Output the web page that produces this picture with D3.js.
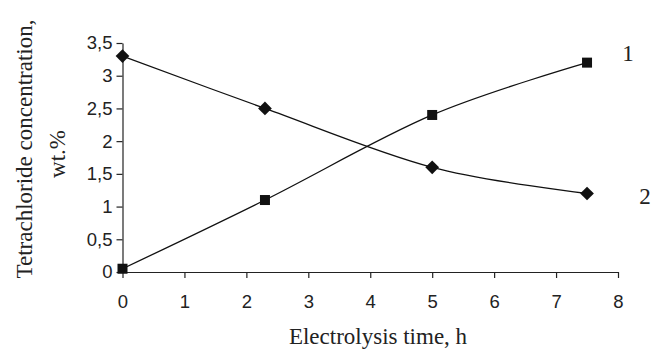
<!doctype html>
<html lang="en">
<head>
    <meta charset="utf-8">
    <title>Tetrachloride concentration</title>
    <script src="https://cdn.jsdelivr.net/npm/d3@7"></script>
    <style>
        body { margin: 0; background: #fff; }
        svg { display: block; }
    </style>
</head>
<body>
    <svg></svg>
    <script>
        var width = 653;
        var height = 350;

        // data
        var timeH = [0, 2.3, 5, 7.5];
        var series1 = [0.05, 1.1, 2.4, 3.2];   // squares, label "1"
        var series2 = [3.3, 2.5, 1.6, 1.2];    // diamonds, label "2"
        var xTicks = [0, 1, 2, 3, 4, 5, 6, 7, 8];
        var yTicks = [0, 0.5, 1, 1.5, 2, 2.5, 3, 3.5];

        var xScale = d3.scaleLinear().domain([0, 8]).range([122.5, 618]);
        var yScale = d3.scaleLinear().domain([0, 3.5]).range([272, 43]);

        var svg = d3.select('svg').attr('width', width).attr('height', height);

        var fmt = function (d) { return String(d).replace('.', ','); };

        var xAxis = d3.axisBottom(xScale).tickValues(xTicks).tickSize(6).tickSizeOuter(0).tickPadding(17);
        var yAxis = d3.axisLeft(yScale).tickValues(yTicks).tickFormat(fmt).tickSize(6).tickSizeOuter(0).tickPadding(4);

        var gx = svg.append('g')
            .attr('transform', 'translate(0,' + yScale(0) + ')')
            .call(xAxis);
        var gy = svg.append('g')
            .attr('transform', 'translate(' + xScale(0) + ',0)')
            .call(yAxis);

        [gx, gy].forEach(function (g) {
            g.selectAll('path, line').attr('stroke', '#222').attr('stroke-width', 1.2);
            g.selectAll('text')
                .attr('fill', '#222')
                .attr('font-family', 'Liberation Sans, Arial, sans-serif')
                .attr('font-size', 18.5);
        });

        var line = d3.line()
            .x(function (d) { return xScale(d[0]); })
            .y(function (d) { return yScale(d[1]); })
            .curve(d3.curveCatmullRom.alpha(0));

        var pts1 = timeH.map(function (t, i) { return [t, series1[i]]; });
        var pts2 = timeH.map(function (t, i) { return [t, series2[i]]; });

        [pts1, pts2].forEach(function (pts) {
            svg.append('path')
                .attr('d', line(pts))
                .attr('fill', 'none')
                .attr('stroke', '#111')
                .attr('stroke-width', 1.3);
        });

        svg.selectAll('.sq')
            .data(pts1)
            .enter()
            .append('rect')
            .attr('x', function (d) { return xScale(d[0]) - 5; })
            .attr('y', function (d) { return yScale(d[1]) - 5; })
            .attr('width', 10)
            .attr('height', 10)
            .attr('fill', '#111');

        var diamond = d3.symbol().type(d3.symbolDiamond2).size(120);
        svg.selectAll('.dm')
            .data(pts2)
            .enter()
            .append('path')
            .attr('d', diamond)
            .attr('transform', function (d) { return 'translate(' + xScale(d[0]) + ',' + yScale(d[1]) + ')'; })
            .attr('fill', '#111');

        var serif = 'Liberation Serif, Times New Roman, serif';

        // series labels
        svg.append('text').attr('x', 628).attr('y', 61).attr('text-anchor', 'middle')
            .attr('font-family', serif).attr('font-size', 23).attr('fill', '#222').text('1');
        svg.append('text').attr('x', 645).attr('y', 204).attr('text-anchor', 'middle')
            .attr('font-family', serif).attr('font-size', 23).attr('fill', '#222').text('2');

        // axis titles
        svg.append('text')
            .attr('x', 378).attr('y', 344)
            .attr('text-anchor', 'middle')
            .attr('font-family', serif).attr('font-size', 23).attr('fill', '#222')
            .text('Electrolysis time, h');

        svg.append('text')
            .attr('transform', 'translate(32,149) rotate(-90)')
            .attr('text-anchor', 'middle')
            .attr('font-family', serif).attr('font-size', 23).attr('fill', '#222')
            .text('Tetrachloride concentration,');
        svg.append('text')
            .attr('transform', 'translate(65,154) rotate(-90)')
            .attr('text-anchor', 'middle')
            .attr('font-family', serif).attr('font-size', 23).attr('fill', '#222')
            .text('wt.%');
    </script>
</body>
</html>
